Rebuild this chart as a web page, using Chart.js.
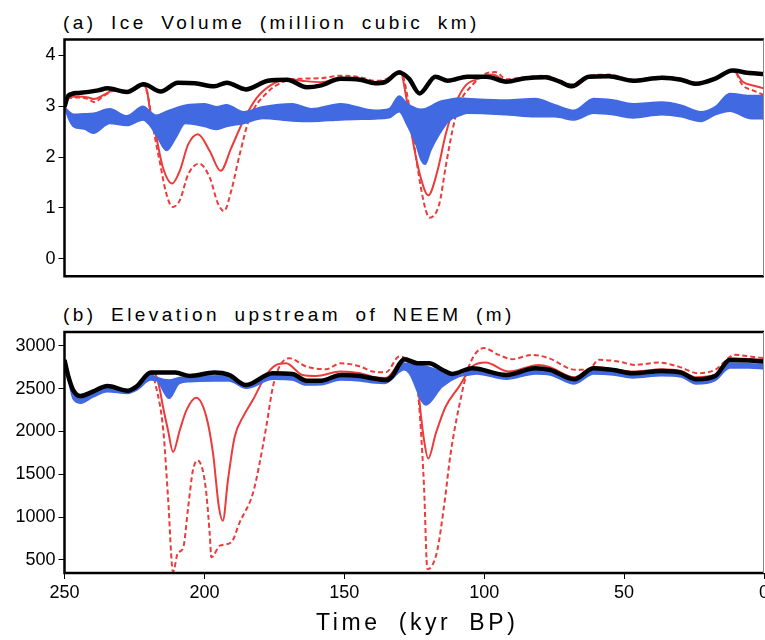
<!DOCTYPE html>
<html>
<head>
<meta charset="utf-8">
<script src="https://cdn.jsdelivr.net/npm/chart.js@4/dist/chart.umd.min.js"></script>
<style>
  html, body { margin:0; padding:0; background:#fff; }
  #wrap { position:relative; width:765px; height:640px; overflow:hidden; font-family:"Liberation Sans", Arial, sans-serif; color:#000; }
  canvas { position:absolute; left:0; }
  .ttl { position:absolute; left:63px; font-size:19px; line-height:19px; letter-spacing:3.4px; word-spacing:6px; white-space:nowrap; }
  #xt { position:absolute; left:316px; top:611px; font-size:23px; line-height:23px; letter-spacing:3.6px; word-spacing:8px; white-space:nowrap; }
</style>
</head>
<body>
<div id="wrap">
  <div class="ttl" style="top:13px">(a) Ice Volume (million cubic km)</div>
  <canvas id="cA" width="765" height="290" style="top:0"></canvas>
  <div class="ttl" style="top:305px">(b) Elevation upstream of NEEM (m)</div>
  <canvas id="cB" width="765" height="350" style="top:290px"></canvas>
  <div id="xt">Time (kyr BP)</div>
</div>
<script>
// ---------- tick labels ----------
const xTicks = [250, 200, 150, 100, 50, 0];
const yTicksA = [0, 1, 2, 3, 4];
const yTicksB = [500, 1000, 1500, 2000, 2500, 3000];

// ---------- panel (a): ice volume ----------
const aBlackT = [250, 248.6, 245, 238, 234.7, 227.7, 221.7, 215.6, 209.5, 203.4, 196.5, 192, 185.2, 177.3, 170.4, 163.4, 158.2, 151.3, 144.3, 139, 135.6, 130.4, 126.9, 123.1, 117.4, 113, 106, 99.1, 92.1, 85.2, 78.2, 73, 68.7, 62.6, 55.6, 46.9, 36.5, 29.6, 24.3, 17.4, 11.3, 5.2, 0];
const aBlackV = [2.99, 3.21, 3.26, 3.31, 3.35, 3.28, 3.43, 3.29, 3.46, 3.45, 3.39, 3.46, 3.33, 3.50, 3.52, 3.37, 3.41, 3.54, 3.52, 3.45, 3.47, 3.66, 3.54, 3.25, 3.58, 3.50, 3.58, 3.58, 3.48, 3.55, 3.57, 3.48, 3.39, 3.58, 3.59, 3.50, 3.56, 3.52, 3.44, 3.54, 3.70, 3.65, 3.63];

const aSolidT = [250, 248.5, 245, 241.5, 239.5, 236, 232, 228, 225, 222.3, 220.5, 219.5, 217.1, 214.8, 211.5, 208.8, 205.8, 202.3, 198.1, 194.2, 190.4, 186.2, 181.5, 175.5, 169.6, 165.2, 158.2, 151.3, 144.3, 139, 135.6, 130, 128, 125.7, 122.7, 120, 116.7, 113.8, 110.2, 106.6, 101.9, 97.1, 92.1, 85.2, 78.2, 73, 68.7, 62.6, 55.6, 46.9, 36.5, 29.6, 24.3, 17.4, 11, 7.6, 3.5, 0];
const aSolidV = [2.99, 3.17, 3.19, 3.17, 3.14, 3.22, 3.32, 3.28, 3.33, 3.42, 3.3, 2.95, 2.37, 1.79, 1.48, 1.73, 2.25, 2.45, 2.12, 1.73, 2.18, 2.7, 3.15, 3.44, 3.53, 3.5, 3.47, 3.56, 3.53, 3.47, 3.49, 3.68, 3.22, 2.38, 1.6, 1.25, 1.73, 2.44, 3.06, 3.41, 3.54, 3.62, 3.5, 3.56, 3.58, 3.49, 3.41, 3.59, 3.6, 3.51, 3.57, 3.53, 3.45, 3.55, 3.7, 3.48, 3.4, 3.35];

const aDashT = [250, 248.5, 245, 241.5, 239.5, 236, 232, 228, 225, 222.3, 220.5, 218.3, 216, 213.6, 211.4, 208.8, 205.8, 201.9, 198.1, 195.1, 193, 190.4, 187.4, 183.9, 177.9, 170.8, 165.2, 158.2, 151.3, 144.3, 139, 135.6, 130, 127.1, 124.2, 121.2, 119.5, 116, 113.8, 111.4, 109, 104.3, 99.5, 96, 92.1, 85.2, 78.2, 73, 68.7, 62.6, 55.6, 46.9, 36.5, 29.6, 24.3, 17.4, 11, 7.6, 3.5, 0];
const aDashV = [2.99, 3.16, 3.17, 3.14, 3.08, 3.2, 3.31, 3.27, 3.32, 3.41, 3.28, 2.57, 1.92, 1.28, 1.02, 1.15, 1.66, 1.87, 1.6, 1.08, 0.94, 1.34, 2.05, 2.76, 3.25, 3.5, 3.54, 3.55, 3.6, 3.57, 3.5, 3.52, 3.69, 3.09, 1.93, 1.02, 0.81, 1.09, 1.8, 2.51, 3.03, 3.41, 3.64, 3.67, 3.53, 3.57, 3.6, 3.5, 3.43, 3.6, 3.62, 3.52, 3.58, 3.54, 3.46, 3.56, 3.71, 3.41, 3.3, 3.22];

const aBandT  = [250, 248.5, 246.8, 243, 239.7, 233.8, 227.8, 221.9, 219.5, 217.3, 213.5, 210, 206.9, 199.9, 195.6, 192.1, 186, 179.1, 168.6, 161.7, 151.3, 139, 134, 130.4, 127.5, 124.4, 122.7, 121.1, 119.1, 116.1, 112.6, 109, 106, 92.1, 81.7, 74.8, 67.8, 60.9, 53.9, 46.9, 36.5, 29.6, 22.6, 17.4, 12.2, 5.2, 0];
const aBandHi = [2.99, 2.9, 2.84, 2.85, 2.86, 2.95, 2.81, 3.0, 2.9, 2.82, 2.9, 2.97, 3.02, 3.05, 2.99, 3.03, 2.89, 2.99, 3.05, 2.95, 3.05, 2.92, 2.95, 3.2, 3.05, 2.96, 2.94, 2.95, 3.0, 3.09, 3.13, 3.16, 3.15, 3.12, 3.15, 3.03, 2.92, 3.15, 3.12, 3.05, 3.08, 3.02, 2.89, 2.99, 3.25, 3.21, 3.21];
const aBandLo = [2.99, 2.75, 2.6, 2.55, 2.47, 2.66, 2.62, 2.73, 2.62, 2.44, 2.13, 2.4, 2.66, 2.6, 2.54, 2.6, 2.66, 2.76, 2.71, 2.7, 2.73, 2.75, 2.77, 2.89, 2.62, 2.25, 1.96, 1.86, 2.13, 2.44, 2.71, 2.81, 2.86, 2.83, 2.79, 2.79, 2.73, 2.86, 2.83, 2.77, 2.83, 2.79, 2.7, 2.83, 2.9, 2.76, 2.75];

// ---------- panel (b): elevation upstream of NEEM ----------
const bBlackT = [250, 248.6, 246.9, 244.3, 239.9, 234.7, 227.4, 224.3, 219.1, 210.4, 205.1, 196.5, 191.2, 185.2, 175.6, 168.6, 163.4, 158.2, 151.3, 144.3, 139.9, 135.1, 133, 130, 128.6, 123.9, 119.7, 115, 111.4, 104.3, 92.1, 81.7, 76.5, 67.8, 60.9, 53.9, 46.9, 36.5, 29.6, 24.3, 17.4, 12.2, 5.2, 0];
const bBlackV = [2835, 2640, 2483, 2413, 2464, 2530, 2476, 2523, 2687, 2687, 2648, 2687, 2660, 2542, 2679, 2671, 2593, 2593, 2660, 2648, 2620, 2600, 2640, 2800, 2844, 2797, 2797, 2720, 2672, 2738, 2660, 2738, 2718, 2609, 2738, 2718, 2679, 2706, 2687, 2609, 2648, 2835, 2828, 2816];

const bSolidT = [250, 248.6, 246.9, 244.3, 239.9, 234.7, 227.4, 224.3, 219.1, 217.1, 215.9, 214.8, 213, 211.2, 208.8, 206.4, 202.9, 199.3, 196.9, 194.8, 193.4, 191.6, 189.2, 186.2, 182.7, 177.9, 174.3, 170.8, 164.9, 160.1, 151.3, 144.3, 139.9, 135.1, 130, 128.6, 125.5, 124, 122.7, 121.5, 120, 117.3, 113.8, 109, 104.3, 99.5, 91.2, 80.5, 76.5, 67.8, 60.9, 53.9, 46.9, 36.5, 29.6, 24.3, 17.4, 12.2, 5.2, 0];
const bSolidV = [2835, 2640, 2485, 2415, 2466, 2532, 2478, 2525, 2689, 2640, 2483, 2288, 2014, 1760, 2014, 2249, 2393, 2170, 1740, 1114, 958, 1427, 1936, 2170, 2366, 2659, 2777, 2796, 2659, 2648, 2700, 2680, 2640, 2625, 2820, 2860, 2790, 2640, 2211, 1898, 1683, 1976, 2288, 2523, 2757, 2804, 2699, 2777, 2750, 2632, 2749, 2730, 2699, 2726, 2705, 2632, 2665, 2855, 2845, 2835];

const bDashT = [250, 248.6, 246.9, 244.3, 239.9, 234.7, 227.4, 224.3, 219.1, 217.3, 214.7, 213, 211.2, 209.5, 207.6, 205.8, 204.1, 202.4, 200.6, 199.3, 198.1, 197.5, 194.5, 190.4, 187.4, 182.7, 180.3, 177.9, 175.5, 173.2, 169.6, 163.6, 156.5, 151.3, 144.3, 139.9, 135.1, 130.4, 128.6, 125.2, 123.9, 122.7, 121.5, 120.3, 119.1, 116.8, 114.4, 112, 109, 105.5, 100.1, 94.8, 90, 82.9, 76.9, 67.4, 62.7, 59.1, 52, 46, 37.7, 30.6, 23.5, 17.5, 10.4, 5.2, 0];
const bDashV = [2835, 2640, 2485, 2415, 2466, 2532, 2478, 2525, 2689, 2522, 2014, 1232, 360, 580, 640, 1116, 1546, 1660, 1546, 1273, 804, 530, 666, 705, 939, 1273, 1624, 2054, 2523, 2757, 2855, 2757, 2727, 2796, 2757, 2700, 2690, 2875, 2860, 2640, 2523, 2054, 1350, 393, 410, 605, 1116, 1742, 2288, 2757, 2973, 2894, 2844, 2894, 2855, 2719, 2719, 2836, 2816, 2777, 2804, 2757, 2680, 2719, 2894, 2875, 2855];

const bBandT  = [250, 248.6, 246.9, 244.3, 239.9, 234.7, 227.4, 224.3, 219.1, 217, 212.6, 209, 205.2, 193.5, 191.2, 185, 175.5, 168.6, 163.6, 158.2, 151.3, 144.3, 139, 135.6, 130, 128.6, 126.8, 120.9, 115, 109, 105.5, 102.7, 92.1, 81.7, 76.5, 67.8, 60.9, 53.9, 46.9, 36.5, 29.6, 24.3, 17.4, 12.2, 5.2, 0];
const bBandHi = [2835, 2620, 2470, 2400, 2450, 2515, 2465, 2505, 2660, 2630, 2600, 2630, 2640, 2650, 2640, 2530, 2650, 2650, 2570, 2575, 2640, 2630, 2595, 2590, 2760, 2800, 2790, 2760, 2700, 2660, 2700, 2715, 2640, 2720, 2700, 2590, 2720, 2700, 2660, 2690, 2670, 2590, 2630, 2800, 2790, 2780];
const bBandLo = [2835, 2600, 2380, 2330, 2400, 2464, 2444, 2480, 2600, 2590, 2386, 2560, 2581, 2589, 2590, 2503, 2609, 2600, 2542, 2545, 2600, 2590, 2565, 2560, 2700, 2720, 2680, 2308, 2523, 2640, 2660, 2670, 2610, 2670, 2660, 2555, 2670, 2660, 2625, 2650, 2635, 2555, 2595, 2740, 2740, 2730];

// ---------- helpers ----------
const pts = (t, v) => t.map((x, i) => ({ x: x, y: v[i] }));
const BLUE = '#4169E1', RED = '#EC3B3B';

const framePlugin = {
  id: 'frame',
  afterDatasetsDraw(chart) {
    const { ctx, chartArea: { left, top, right, bottom } } = chart;
    ctx.save();
    ctx.strokeStyle = '#000';
    ctx.lineWidth = 2.5;
    ctx.beginPath();
    ctx.moveTo(right, top); ctx.lineTo(left, top); ctx.lineTo(left, bottom); ctx.lineTo(right, bottom);
    ctx.stroke();
    ctx.strokeStyle = '#888';
    ctx.lineWidth = 1;
    ctx.beginPath();
    ctx.moveTo(right - 0.5, top); ctx.lineTo(right - 0.5, bottom);
    ctx.stroke();
    ctx.restore();
  }
};

function makeDatasets(blackT, blackV, bandT, bandHi, bandLo, solT, solV, dashT, dashV) {
  return [
    { data: pts(blackT, blackV), borderColor: '#000', borderWidth: 4.5, pointRadius: 0, order: 0, cubicInterpolationMode: 'monotone', fill: false },
    { data: pts(bandT, bandHi), borderColor: BLUE, backgroundColor: BLUE, borderWidth: 1.5, pointRadius: 0, order: 1, cubicInterpolationMode: 'monotone', fill: '+1' },
    { data: pts(bandT, bandLo), borderColor: BLUE, borderWidth: 1.5, pointRadius: 0, order: 1, cubicInterpolationMode: 'monotone', fill: false },
    { data: pts(solT, solV), borderColor: RED, borderWidth: 2, pointRadius: 0, order: 2, cubicInterpolationMode: 'monotone', fill: false },
    { data: pts(dashT, dashV), borderColor: RED, borderWidth: 2, borderDash: [5, 3], pointRadius: 0, order: 3, cubicInterpolationMode: 'monotone', fill: false }
  ];
}

const tickFont = { family: '"Liberation Sans", Arial, sans-serif', size: 18 };

function yScale(min, max, ticksArr) {
  return {
    type: 'linear', position: 'left', min: min, max: max,
    afterBuildTicks: s => { s.ticks = ticksArr.map(v => ({ value: v })); },
    afterFit: s => { s.width = 64.5; },
    ticks: { color: '#000', font: tickFont, padding: 3, autoSkip: false, callback: v => String(v) },
    grid: { display: true, drawOnChartArea: false, drawTicks: true, tickLength: 6, color: '#000', lineWidth: 1 },
    border: { display: false }
  };
}

function xScale(show) {
  return {
    type: 'linear', min: 0, max: 250, reverse: true, display: show,
    afterBuildTicks: s => { s.ticks = xTicks.map(v => ({ value: v })); },
    afterFit: s => { if (show) { s.height = 67; } s.paddingLeft = 0; s.paddingRight = 0; },
    ticks: { color: '#000', font: tickFont, padding: 3, autoSkip: false, maxRotation: 0, callback: v => String(v) },
    grid: { display: true, drawOnChartArea: false, drawTicks: true, tickLength: 6, color: '#000', lineWidth: 1 },
    border: { display: false }
  };
}

const commonOpts = {
  responsive: false, animation: false, devicePixelRatio: 1,
  plugins: { legend: { display: false }, tooltip: { enabled: false }, title: { display: false } }
};

new Chart(document.getElementById('cA'), {
  type: 'line',
  data: { datasets: makeDatasets(aBlackT, aBlackV, aBandT, aBandHi, aBandLo, aSolidT, aSolidV, aDashT, aDashV) },
  options: Object.assign({}, commonOpts, {
    layout: { padding: { top: 39.5, bottom: 10, left: 0, right: 1 } },
    scales: { x: xScale(false), y: yScale(-0.34, 4.31, yTicksA) }
  }),
  plugins: [framePlugin]
});

new Chart(document.getElementById('cB'), {
  type: 'line',
  data: { datasets: makeDatasets(bBlackT, bBlackV, bBandT, bBandHi, bBandLo, bSolidT, bSolidV, bDashT, bDashV) },
  options: Object.assign({}, commonOpts, {
    layout: { padding: { top: 42, bottom: 0, left: 0, right: 1 } },
    scales: { x: xScale(true), y: yScale(347, 3161, yTicksB) }
  }),
  plugins: [framePlugin]
});
</script>
</body>
</html>
